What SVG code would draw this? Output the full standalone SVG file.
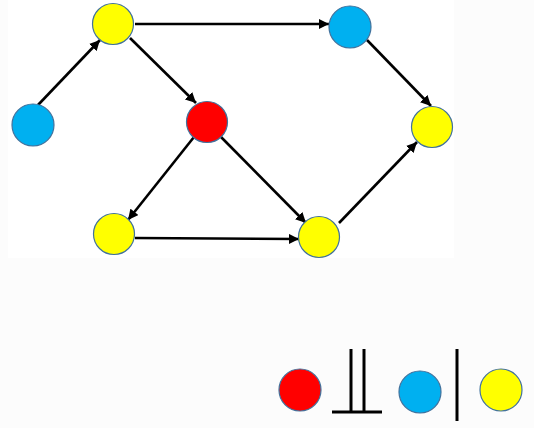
<svg xmlns="http://www.w3.org/2000/svg" width="534" height="428" viewBox="0 0 534 428">
<defs>
<style>
.n{stroke:#41719c;stroke-width:1.2}
.y{fill:#ffff00}
.b{fill:#00b0f0}
.r{fill:#ff0000}
.e{stroke:#000;stroke-width:2.6;fill:none;marker-end:url(#ah)}
.s{stroke:#000;stroke-width:3;fill:none}
</style>
<marker id="ah" viewBox="0 0 10 10" refX="10" refY="5" markerWidth="4" markerHeight="4" orient="auto" markerUnits="strokeWidth">
<path d="M0,0 L10,5 L0,10 Z" fill="#000"/>
</marker>
</defs>
<rect x="0" y="0" width="534" height="428" fill="#fcfcfc"/>
<rect x="8" y="0" width="446" height="258" fill="#ffffff"/>
<g id="connectors">
<line class="e" x1="38" y1="105" x2="100" y2="40"/>
<line class="e" x1="135" y1="24" x2="329" y2="24"/>
<line class="e" x1="130" y1="38" x2="196" y2="103"/>
<line class="e" x1="367" y1="40" x2="431" y2="106"/>
<line class="e" x1="339" y1="223" x2="417" y2="142"/>
<line class="e" x1="194" y1="137" x2="128" y2="220"/>
<line class="e" x1="221" y1="137" x2="306" y2="223"/>
<line class="e" x1="135" y1="238" x2="299" y2="239"/>
</g>
<g id="node-a"><circle class="n y" cx="113" cy="24" r="20.5"/></g>
<g id="node-b"><circle class="n b" cx="33" cy="125" r="21"/></g>
<g id="node-c"><circle class="n r" cx="207" cy="122" r="20.5"/></g>
<g id="node-d"><circle class="n b" cx="350" cy="27" r="21"/></g>
<g id="node-e"><circle class="n y" cx="432" cy="127" r="20.5"/></g>
<g id="node-f"><circle class="n y" cx="114" cy="234" r="20.5"/></g>
<g id="node-g"><circle class="n y" cx="319" cy="237" r="20.5"/></g>
<g id="legend">
<circle class="n r" cx="300" cy="390" r="21"/>
<line class="s" x1="351" y1="349" x2="351" y2="412"/>
<line class="s" x1="364" y1="349" x2="364" y2="412"/>
<line class="s" x1="332" y1="412" x2="382" y2="412"/>
<circle class="n b" cx="420" cy="392" r="21"/>
<line class="s" x1="457" y1="349" x2="457" y2="421"/>
<circle class="n y" cx="501" cy="390" r="21"/>
</g>
</svg>
